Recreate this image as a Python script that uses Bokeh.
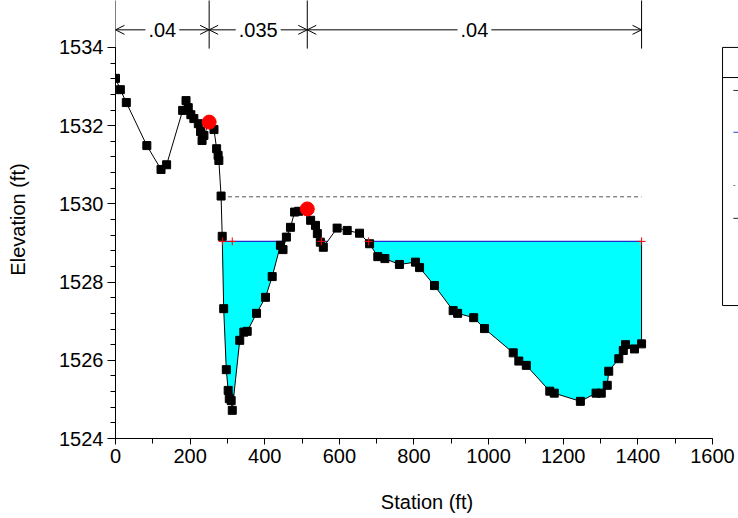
import numpy as np
from bokeh.plotting import figure
from bokeh.models import Range1d, FixedTicker, Arrow, OpenHead, Label
from bokeh.embed import file_html
from bokeh.resources import INLINE

# ---------------- data ----------------
station = [0, 13, 29, 84, 122, 137, 180, 189, 195, 202, 210, 222, 228, 232, 237,
           251, 264, 271, 275, 277, 283, 286, 290, 297, 302, 305, 310, 313,
           333, 344, 353, 378, 402, 420, 442, 449, 458, 469, 480, 491, 514,
           523, 536, 541, 549, 557, 594, 621, 654, 681, 703, 722, 761, 804,
           815, 855, 905, 917, 960, 989, 1066, 1081, 1101, 1164, 1176, 1246,
           1288, 1302, 1318, 1322, 1349, 1361, 1367, 1391, 1410]
elevation = [1533.21, 1532.92, 1532.59, 1531.49, 1530.88, 1531.00, 1532.39, 1532.64,
             1532.46, 1532.28, 1532.18, 1532.05, 1531.85, 1531.62, 1531.75,
             1532.09, 1531.90, 1531.41, 1531.24, 1531.11, 1530.20, 1529.17, 1527.32,
             1525.76, 1525.23, 1525.02, 1524.97, 1524.72,
             1526.51, 1526.72, 1526.74, 1527.20, 1527.61, 1528.14, 1528.94, 1528.83,
             1529.15, 1529.40, 1529.79, 1529.81, 1529.87,
             1529.58, 1529.45, 1529.24, 1529.02, 1528.89, 1529.38, 1529.32, 1529.25,
             1528.98, 1528.65, 1528.60, 1528.45, 1528.51,
             1528.37, 1527.91, 1527.27, 1527.20, 1527.09, 1526.81, 1526.19, 1525.98,
             1525.87, 1525.21, 1525.16, 1524.95,
             1525.16, 1525.16, 1525.36, 1525.72, 1526.04, 1526.25, 1526.40, 1526.29,
             1526.42]
bank_station = [251, 514]
bank_elev = [1532.09, 1529.87]
ws_elev = 1529.04
eg_elev = 1530.18
eg_extent = [283, 1410]
ws_marks = [287, 313, 552, 678, 1410]
n_break = [0, 251, 514, 1410]
n_labels = [".04", ".035", ".04"]
x_ticks = list(range(0, 1601, 200))
x_minor = list(range(0, 1601, 100))
y_ticks = list(range(1524, 1535, 2))
y_minor = [round(1524 + 0.4 * i, 1) for i in range(26)]

# ---------------- layout constants ----------------
FONT = "Liberation Sans"
n_line_y = [1533.97, 1535.5]
n_arrow_y = 1534.45
legend_box = dict(left=1627, right=1720, top=1534.0, bottom=1527.4, sep=1533.23)
legend_marks_x = [1656, 1690]
legend_marks = [(1532.90, "#333333", "solid"), (1531.83, "#3040D0", "solid"),
                (1530.47, "#777777", "dotted"), (1529.63, "#222222", "solid")]

p = figure(width=738, height=518,
           x_range=Range1d(0, 1669.8), y_range=Range1d(1524, 1535.2),
           output_backend="svg", toolbar_location=None,
           min_border_left=115, min_border_right=0,
           min_border_top=0, min_border_bottom=80)
p.xgrid.visible = False
p.ygrid.visible = False
p.outline_line_color = None
p.background_fill_color = "white"
p.border_fill_color = "white"

# ---------------- water fill ----------------
S = np.array(station, float)
E = np.array(elevation, float)
cross = []
for i in range(len(S) - 1):
    a, b = E[i] - ws_elev, E[i + 1] - ws_elev
    if a * b < 0:
        xc = S[i] + (ws_elev - E[i]) * (S[i + 1] - S[i]) / (E[i + 1] - E[i])
        cross.append((xc, "down" if a > 0 else "up"))
x_all = np.unique(np.concatenate([S, [c[0] for c in cross]]))
x_all = x_all[x_all >= cross[0][0]]
g_all = np.interp(x_all, S, E)
y_low = np.minimum(g_all, ws_elev)
p.varea(x=x_all, y1=y_low, y2=np.full_like(x_all, ws_elev), fill_color="#00FFFF")

# water surface line over wet intervals
segs_x, segs_y = [], []
start = None
for xc, d in cross:
    if d == "down":
        start = xc
    elif start is not None:
        segs_x.append([start, xc]); segs_y.append([ws_elev, ws_elev]); start = None
if start is not None:
    segs_x.append([start, S[-1]]); segs_y.append([ws_elev, ws_elev])
p.multi_line(segs_x, segs_y, line_color="#1F2FD0", line_width=1.2)

# right wall of water
p.segment(x0=[S[-1]], y0=[E[-1]], x1=[S[-1]], y1=[ws_elev], line_color="black", line_width=1)

# energy grade line
p.line(eg_extent, [eg_elev, eg_elev], line_color="#555555", line_dash="4 3", line_width=1)

# ground
p.line(station, elevation, line_color="black", line_width=1)
p.scatter(station, elevation, marker="square", size=8, fill_color="black", line_color="black")

# ws intersection marks
p.scatter(ws_marks, [ws_elev] * len(ws_marks), marker="cross", size=8,
          line_color="red", line_width=1)

# bank stations
p.scatter(bank_station, bank_elev, marker="circle", size=14, fill_color="red", line_color="red")

# legend box (clipped at right edge)
p.quad(left=[legend_box["left"]], right=[legend_box["right"]],
       top=[legend_box["top"]], bottom=[legend_box["bottom"]],
       fill_color="white", line_color="black", line_width=1)
p.segment(x0=[legend_box["left"]], y0=[legend_box["sep"]],
          x1=[legend_box["right"]], y1=[legend_box["sep"]], line_color="black")
for ly, lc, ld in legend_marks:
    p.line(legend_marks_x, [ly, ly], line_color=lc, line_dash=ld, line_width=1)

# n-value markers
p.segment(x0=n_break, y0=[n_line_y[0]] * len(n_break), x1=n_break,
          y1=[n_line_y[1]] * len(n_break), line_color="black", line_width=1)
for i, lab in enumerate(n_labels):
    mid = (n_break[i] + n_break[i + 1]) / 2
    for end in (n_break[i], n_break[i + 1]):
        p.add_layout(Arrow(x_start=mid, y_start=n_arrow_y, x_end=end, y_end=n_arrow_y,
                           line_color="black", line_width=1,
                           end=OpenHead(size=9, line_color="black", line_width=1)))
for i, lab in enumerate(n_labels):
    mid = (n_break[i] + n_break[i + 1]) / 2
    p.add_layout(Label(x=mid, y=n_arrow_y, text=lab, text_align="center",
                       text_baseline="middle", text_font=FONT, text_font_size="20px",
                       text_color="black", background_fill_color="white", padding=3))

# ---------------- axes ----------------
p.xaxis.bounds = (0, 1600)
p.yaxis.bounds = (1524, 1534)
p.xaxis.ticker = FixedTicker(ticks=x_ticks, minor_ticks=x_minor)
p.yaxis.ticker = FixedTicker(ticks=y_ticks, minor_ticks=y_minor)
p.xaxis.axis_label = "Station (ft)"
p.yaxis.axis_label = "Elevation (ft)"
for ax in (p.xaxis[0], p.yaxis[0]):
    ax.axis_line_color = "black"
    ax.major_tick_line_color = "black"
    ax.minor_tick_line_color = "black"
    ax.major_tick_in = 0
    ax.minor_tick_in = 0
    ax.major_label_text_font = FONT
    ax.major_label_text_font_size = "20px"
    ax.major_label_text_color = "black"
    ax.axis_label_text_font = FONT
    ax.axis_label_text_font_size = "20px"
    ax.axis_label_text_font_style = "normal"
    ax.axis_label_text_color = "black"
p.xaxis.major_tick_out = 6
p.xaxis.minor_tick_out = 5
p.xaxis.major_label_standoff = 4
p.xaxis.axis_label_standoff = 25
p.yaxis.major_tick_out = 8
p.yaxis.minor_tick_out = 5
p.yaxis.major_label_standoff = 4
p.yaxis.axis_label_standoff = 27

open("out.html", "w").write(file_html(p, INLINE))
